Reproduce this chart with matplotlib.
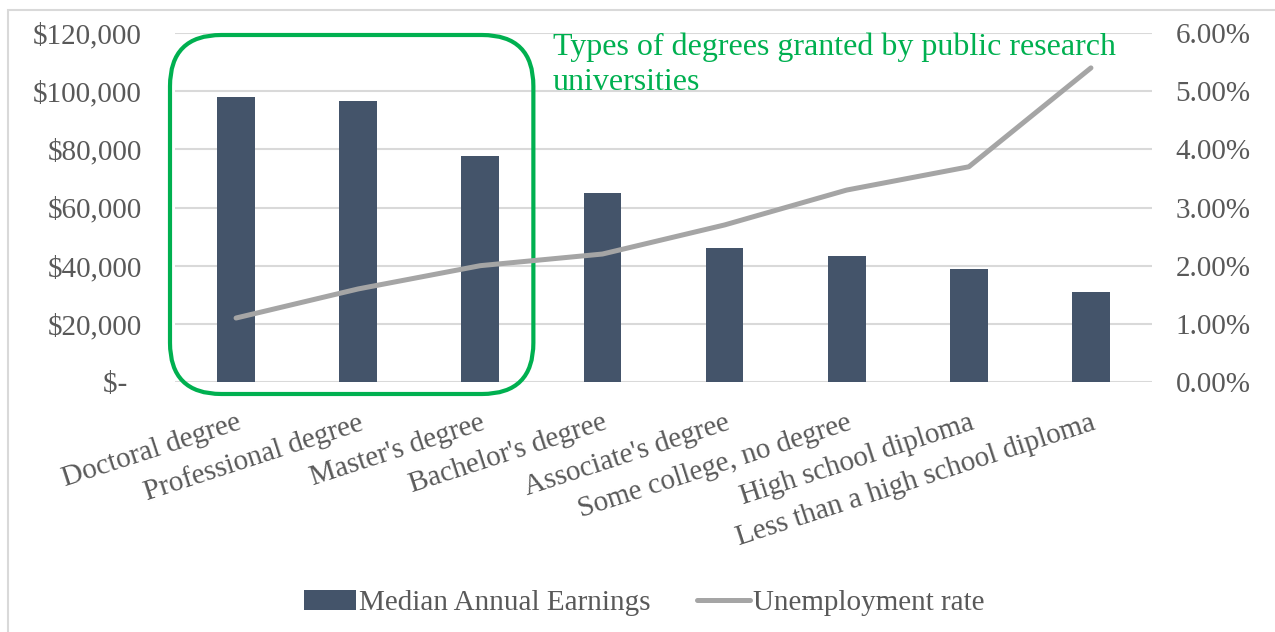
import matplotlib.pyplot as plt
from matplotlib.patches import FancyBboxPatch, Rectangle
from matplotlib.ticker import FuncFormatter, MultipleLocator

plt.rcParams['font.family'] = ['Liberation Serif', 'DejaVu Serif']

degrees = ["Doctoral degree", "Professional degree", "Master's degree", "Bachelor's degree",
           "Associate's degree", "Some college, no degree", "High school diploma",
           "Less than a high school diploma"]
earnings = [97916, 96772, 77844, 64896, 46124, 43316, 38792, 30784]
unemployment = [1.1, 1.6, 2.0, 2.2, 2.7, 3.3, 3.7, 5.4]

bar_color = '#44546A'
line_color = '#A5A5A5'
grid_color = '#D9D9D9'
text_color = '#595959'
green = '#00B050'

fig = plt.figure(figsize=(12.75, 6.32), dpi=100)
# chart frame
fig.patches.append(Rectangle((8 / 1275, -0.1), 1.1, 1 - 10 / 632 + 0.1, transform=fig.transFigure,
                             fill=False, edgecolor=grid_color, linewidth=1.5))

ax = fig.add_axes([175 / 1275, 1 - 382 / 632, (1152 - 175) / 1275, (382 - 33) / 632])
x = list(range(len(degrees)))
bars = ax.bar(x, earnings, width=0.31, color=bar_color, zorder=2, label='Median Annual Earnings')
ax.set_xlim(-0.5, len(degrees) - 0.5)
ax.set_ylim(0, 120000)
ax.yaxis.set_major_locator(MultipleLocator(20000))
ax.yaxis.set_major_formatter(FuncFormatter(lambda v, p: '$-  ' if v == 0 else f'${v:,.0f}'))
ax.grid(axis='y', color=grid_color, linewidth=1.5, zorder=0)
for s in ax.spines.values():
    s.set_visible(False)
ax.tick_params(axis='y', length=0, labelsize=21, colors=text_color, pad=24)
ax.tick_params(axis='x', length=0, labelsize=21, colors=text_color, pad=20)
ax.set_xticks(x)
ax.set_xticklabels(degrees, rotation=18, ha='right', va='top', rotation_mode='anchor')

ax2 = ax.twinx()
line, = ax2.plot(x, unemployment, color=line_color, linewidth=3.6, solid_capstyle='round',
                 label='Unemployment rate', zorder=3)
ax2.set_ylim(0, 6)
ax2.yaxis.set_major_locator(MultipleLocator(1))
ax2.yaxis.set_major_formatter(FuncFormatter(lambda v, p: f'{v:.2f}%'))
for s in ax2.spines.values():
    s.set_visible(False)
ax2.tick_params(axis='y', length=0, labelsize=21, colors=text_color, pad=17)

# green highlight around the first three degrees
px_x = 1 / 122.1
px_y = 20000 / 58.2
box = FancyBboxPatch((-0.5 - 5 * px_x, -12 * px_y), 3 - 3 * px_x, 120000 + 10 * px_y,
                     boxstyle='round,pad=0,rounding_size=0.42', mutation_aspect=px_y / px_x,
                     fill=False, edgecolor=green, linewidth=3, clip_on=False, zorder=4)
ax.add_patch(box)
ax.text(2.596, 120300, 'Types of degrees granted by public research\nuniversities', color=green,
        fontsize=23, va='top', ha='left', linespacing=1.3, zorder=5)

fig.legend([bars, line], ['Median Annual Earnings', 'Unemployment rate'], loc='center',
           bbox_to_anchor=(0.505, 1 - 603 / 632), ncol=2, frameon=False, fontsize=21,
           handlelength=1.8, handletextpad=0.1, columnspacing=1.6, labelcolor=text_color)

fig.savefig('out.png', dpi=100)
